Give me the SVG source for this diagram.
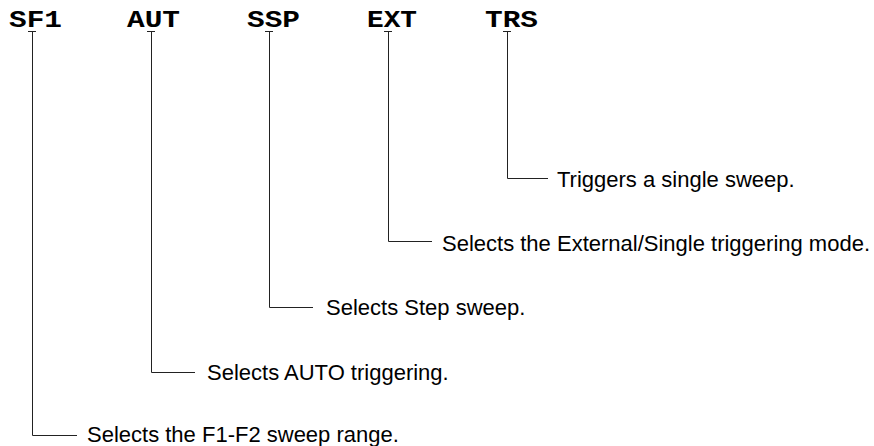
<svg xmlns="http://www.w3.org/2000/svg" width="874" height="446" viewBox="0 0 874 446">
<style>
.code{font-family:"Courier New",Courier,"Nimbus Mono PS","Liberation Mono",monospace;font-weight:bold;font-size:23px;fill:#000}
.desc{font-family:"Liberation Sans",Arial,sans-serif;font-size:22px;fill:#000}
.ln{fill:none;stroke:#222;stroke-width:1}
</style>
<rect width="874" height="446" fill="#fff"/>
<g id="connectors">
<path class="ln" d="M28 31.5H36M32.5 31.5V435.5H77"/>
<path class="ln" d="M147 31.5H155M151.5 31.5V372.5H195"/>
<path class="ln" d="M265 31.5H273M269.5 31.5V307.5H313"/>
<path class="ln" d="M384 31.5H392M388.5 31.5V241.5H432"/>
<path class="ln" d="M503 31.5H511M507.5 31.5V178.5H548"/>
</g>
<g id="SF1"><text class="code" x="9" y="27" textLength="53" lengthAdjust="spacingAndGlyphs">SF1</text></g>
<g id="AUT"><text class="code" x="127" y="27" textLength="53" lengthAdjust="spacingAndGlyphs">AUT</text></g>
<g id="SSP"><text class="code" x="247" y="27" textLength="53" lengthAdjust="spacingAndGlyphs">SSP</text></g>
<g id="EXT"><text class="code" x="367" y="27" textLength="50" lengthAdjust="spacingAndGlyphs">EXT</text></g>
<g id="TRS"><text class="code" x="485" y="27" textLength="53" lengthAdjust="spacingAndGlyphs">TRS</text></g>
<g id="d-SF1"><text class="desc" x="87" y="441.5">Selects the F1-F2 sweep range.</text></g>
<g id="d-AUT"><text class="desc" x="207" y="380">Selects AUTO triggering.</text></g>
<g id="d-SSP"><text class="desc" x="326" y="315">Selects Step sweep.</text></g>
<g id="d-EXT"><text class="desc" x="442" y="251">Selects the External/Single triggering mode.</text></g>
<g id="d-TRS"><text class="desc" x="557" y="187">Triggers a single sweep.</text></g>
</svg>
